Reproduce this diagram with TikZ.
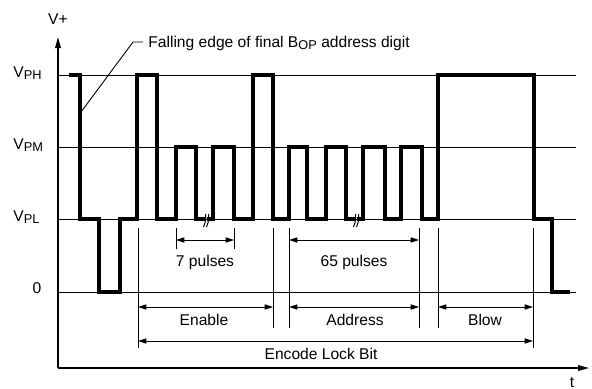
\documentclass[tikz,border=0pt]{standalone}
\usepackage{fontspec}
\setmainfont{Liberation Sans}
\usetikzlibrary{arrows.meta}
\newcommand{\lsub}[1]{\raisebox{-0.35ex}{\fontsize{6.4}{7}\selectfont #1}}
\tikzset{
  wave/.style={line width=1.65pt, line join=miter, line cap=rect},
  level/.style={line width=0.5pt},
  ext/.style={line width=0.45pt},
  dimarr/.style={{Triangle[length=4.2pt,width=2.6pt]}-{Triangle[length=4.2pt,width=2.6pt]}, line width=0.45pt},
  axarr/.style={-{Triangle[length=5.5pt,width=2.8pt]}, line width=0.7pt},
  lbl/.style={font=\fontsize{7.8}{9}\selectfont, inner sep=0pt},
  brk/.style={line width=0.5pt}
}
\begin{document}
\begin{tikzpicture}[x=0.5pt,y=-0.5pt]
  \useasboundingbox (0,0) rectangle (592,388);
  \def\yH{75}\def\yM{147}\def\yL{219}\def\yZ{292}
  % axes
  \coordinate (org) at (58,368);
  \coordinate (vtop) at (58,37);
  \coordinate (tend) at (589,368);
  \draw[axarr] (org) -- (vtop);
  \draw[axarr] (org) -- (tend);
  \node[lbl] (vplus) at (58,19) {V+};
  \node[lbl] (tlab) at (572,382) {t};
  % voltage levels
  \foreach \y/\n/\t in {75/vph/{V\lsub{PH}},147/vpm/{V\lsub{PM}},219/vpl/{V\lsub{PL}}}{
    \draw[level] (58,\y) -- (576,\y);
    \node[lbl,anchor=base west] (\n) at (13,\y+2) {\t};
  }
  \draw[level] (58,\yZ) -- (576,\yZ);
  \node[lbl,anchor=base] (zero) at (37,293) {0};
  % waveform
  \draw[wave] (71,\yH) -| (80,\yL) -| (99,\yZ) -| (120,\yL) -| (137,\yH) -| (157,\yL)
      -| (176,\yM) -| (196,\yL) -- (203,\yL)
    (208.5,\yL) -| (213,\yM) -| (234,\yL) -| (253,\yH) -| (273,\yL) -| (289,\yM)
      -| (307,\yL) -| (326,\yM) -| (346,\yL) -- (353,\yL)
    (358.5,\yL) -| (363,\yM) -| (385,\yL) -| (401,\yM) -| (422,\yL) -| (438,\yH)
      -| (534,\yL) -| (552,\yZ) -- (568,\yZ);
  % break marks
  \foreach \bx in {204.5,207.5,354.5,357.5}{
    \draw[brk] (\bx+1,214) .. controls (\bx+1.5,220) .. (\bx-1,227);
  }
  % leader
  \node[lbl,anchor=base west] (fall) at (148,47) {Falling edge of final B\lsub{OP} address digit};
  \coordinate (fallpt) at (81,112);
  \coordinate (bend) at (133,42);
  \draw[ext] (fallpt) -- (bend) -- ++(10,0);
  % extension lines
  \foreach \x/\a/\b in {138/228/348,176/228/249,234/228/249,273/228/328,289/228/328,419/228/328,438/228/328,533/228/348}{
    \draw[ext] (\x,\a) -- (\x,\b);
  }
  % dimensions
  \coordinate (sevA) at (176,240); \coordinate (sevB) at (234,240);
  \coordinate (sixA) at (289,240); \coordinate (sixB) at (419,240);
  \coordinate (enA) at (138,307);  \coordinate (enB) at (273,307);
  \coordinate (adA) at (289,307);  \coordinate (adB) at (419,307);
  \coordinate (blA) at (438,307);  \coordinate (blB) at (533,307);
  \coordinate (lkA) at (138,341);  \coordinate (lkB) at (533,341);
  \draw[dimarr] (sevA) -- (sevB);
  \draw[dimarr] (sixA) -- (sixB);
  \draw[dimarr] (enA) -- (enB);
  \draw[dimarr] (adA) -- (adB);
  \draw[dimarr] (blA) -- (blB);
  \draw[dimarr] (lkA) -- (lkB);
  \node[lbl] (seven) at (205,262) {7 pulses};
  \node[lbl] (sixtyfive) at (354,262) {65 pulses};
  \node[lbl] (enable) at (204,320) {Enable};
  \node[lbl] (address) at (355,320) {Address};
  \node[lbl] (blow) at (485,320) {Blow};
  \node[lbl] (lockbit) at (321,354) {Encode Lock Bit};
\end{tikzpicture}
\end{document}
